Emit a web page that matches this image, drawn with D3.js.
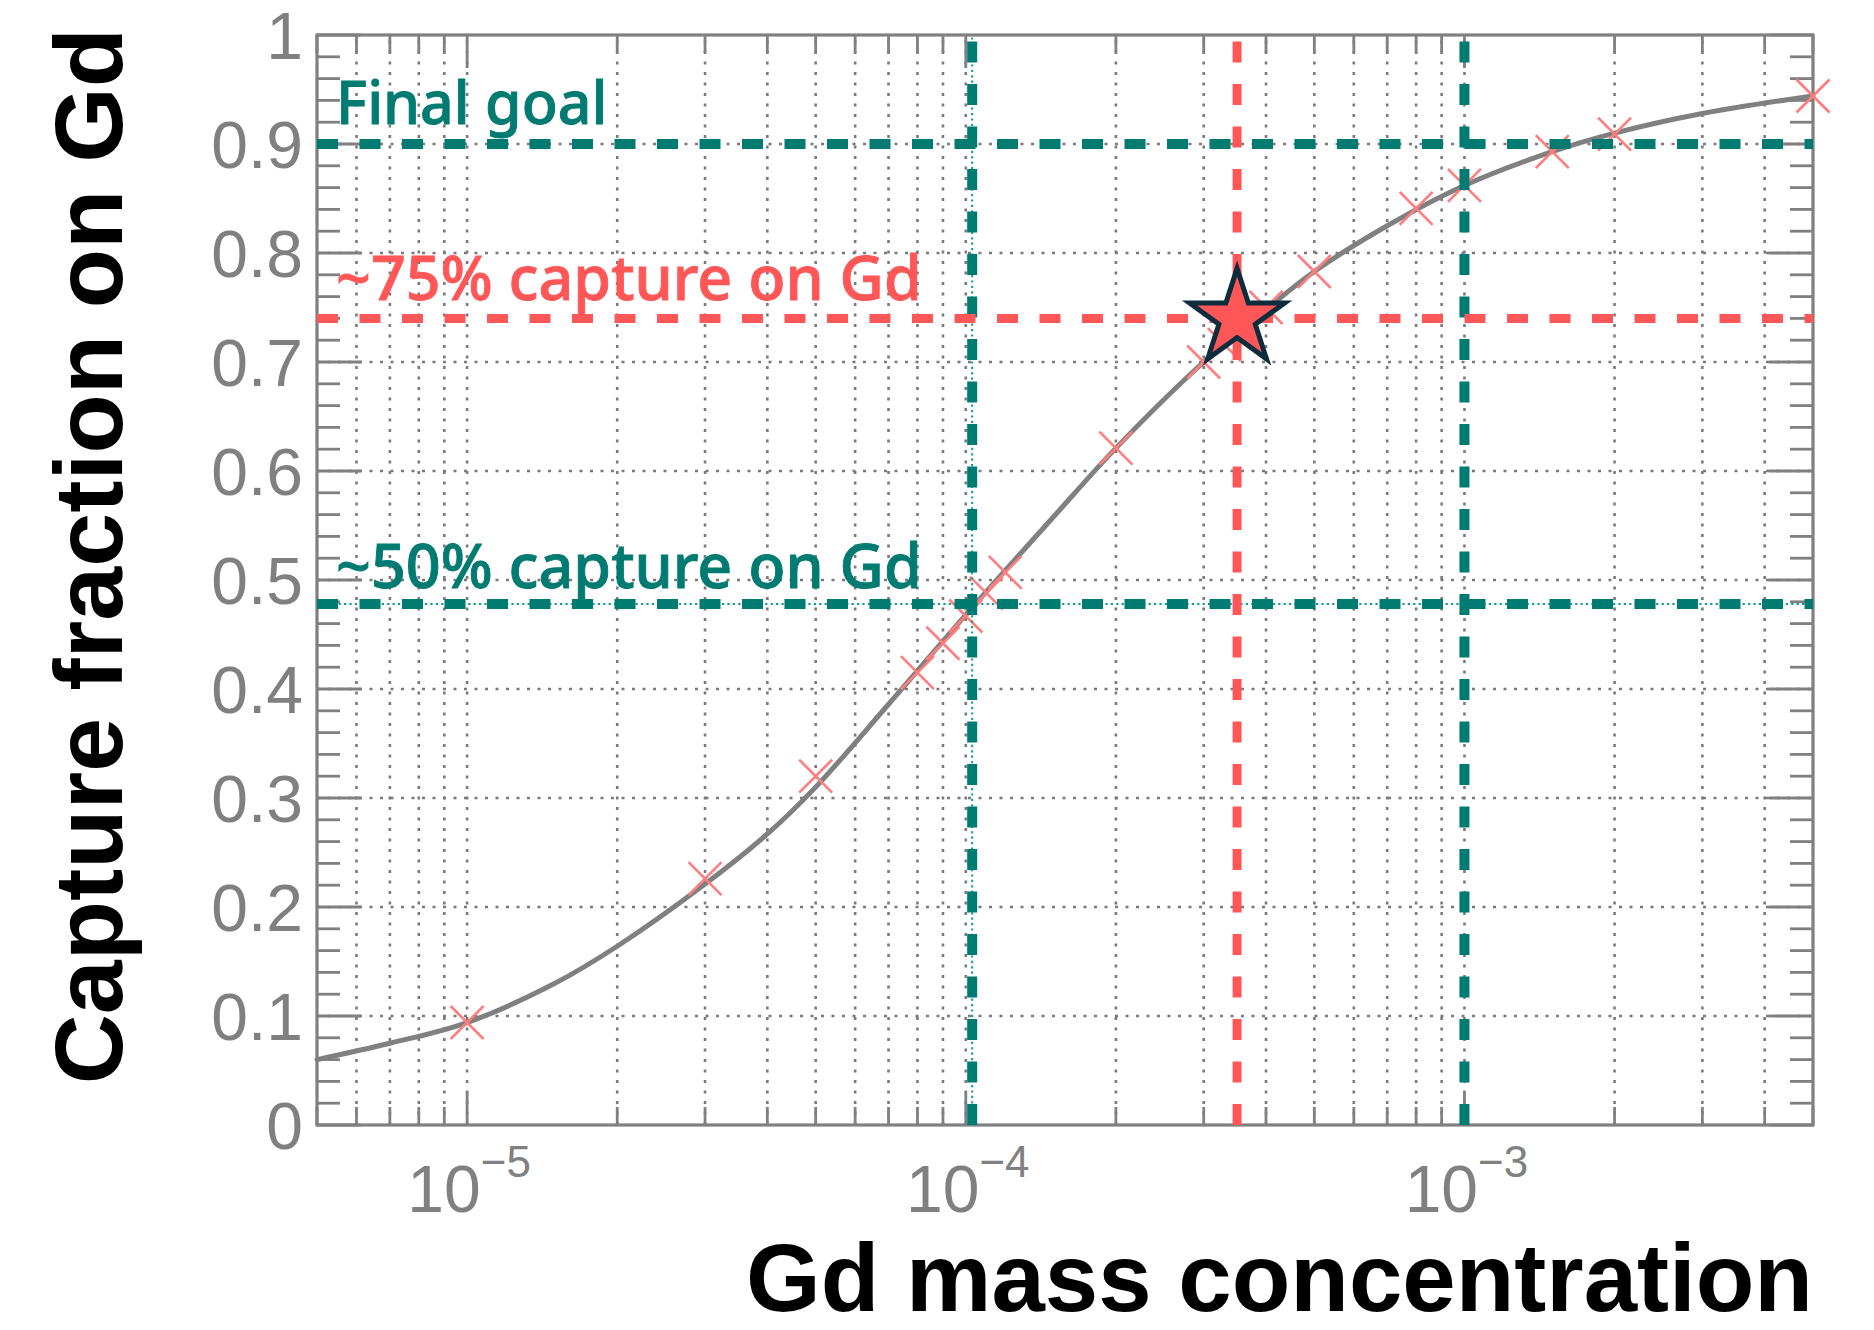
<!DOCTYPE html>
<html>
<head>
<meta charset="utf-8">
<script src="https://cdn.jsdelivr.net/npm/d3@7"></script>
<style>
  html, body { margin: 0; padding: 0; background: #ffffff; }
  svg { display: block; }
</style>
</head>
<body>
<svg id="chart" width="1874" height="1330"></svg>
<script>
// Simulated capture fractions at each Gd mass concentration (cross markers)
const simConc = [1e-5, 3e-5, 5e-5, 8e-5, 9e-5, 1e-4, 1.1e-4, 1.2e-4, 2e-4, 3e-4, 3.3e-4, 4e-4, 5e-4, 8e-4, 1e-3, 1.5e-3, 2e-3, 5e-3];
const simFrac = [0.094, 0.226, 0.320, 0.415, 0.442, 0.467, 0.488, 0.507, 0.621, 0.700, 0.716, 0.750, 0.783, 0.841, 0.862, 0.893, 0.909, 0.944];

// Smooth fit through the simulation
const fitConc = [5e-6, 7e-6, 1e-5, 1.5e-5, 2e-5, 3e-5, 4e-5, 5e-5, 7e-5, 1e-4, 1.5e-4, 2e-4, 3e-4, 4e-4, 5e-4, 7e-4, 1e-3, 1.5e-3, 2e-3, 3e-3, 5e-3];
const fitFrac = [0.060, 0.075, 0.094, 0.130, 0.164, 0.221, 0.267, 0.310, 0.386, 0.468, 0.558, 0.621, 0.700, 0.748, 0.783, 0.825, 0.862, 0.893, 0.910, 0.928, 0.944];

// Reference levels
const goalFrac = 0.9;
const currentFrac = 0.74;
const halfFrac = 0.478;
const halfConc = 1.03e-4;
const goalConc = 1e-3;
const currentConc = 3.5e-4;

// Axis ticks and labels
const xDomain = [5e-6, 5e-3];
const xMajorTicks = [1e-5, 1e-4, 1e-3];
const xTickExponents = ["\u22125", "\u22124", "\u22123"];
const yMajorTicks = [0, 0.1, 0.2, 0.3, 0.4, 0.5, 0.6, 0.7, 0.8, 0.9, 1];
const yTickLabels = ["0", "0.1", "0.2", "0.3", "0.4", "0.5", "0.6", "0.7", "0.8", "0.9", "1"];

const annotations = [
  { text: "Final goal", frac: goalFrac, color: "teal" },
  { text: "~75% capture on Gd", frac: currentFrac, color: "red" },
  { text: "~50% capture on Gd", frac: halfFrac, color: "teal" }
];

const COLORS = {
  axis: "#808080",
  grid: "#7a7a7a",
  curve: "#808080",
  teal: "#007b71",
  tealThin: "#0a9c92",
  red: "#ff5757",
  cross: "#ff7d7d",
  starEdge: "#0d2c3c",
  title: "#000000"
};

const W = 1874, H = 1330;
const margin = { left: 317, right: 61, top: 35, bottom: 205 };
const x0 = margin.left, x1 = W - margin.right;
const y0 = H - margin.bottom, y1 = margin.top;

const x = d3.scaleLog().domain(xDomain).range([x0, x1]);
const y = d3.scaleLinear().domain([0, 1]).range([y0, y1]);

const svg = d3.select("#chart");

// ---- tick sets ----
const xAllTicks = [];
for (let e = -6; e <= -3; e++) {
  for (let m = 1; m <= 9; m++) {
    const v = m * Math.pow(10, e);
    if (v >= xDomain[0] * 0.999 && v <= xDomain[1] * 1.001) xAllTicks.push({ v, major: m === 1 });
  }
}
const yAllTicks = d3.range(0, 51).map(i => ({ v: i / 50, major: i % 5 === 0 }));

// ---- grid ----
const grid = svg.append("g").attr("class", "grid")
  .attr("stroke", COLORS.grid).attr("stroke-width", 2.6).attr("stroke-dasharray", "3,7.5");
grid.selectAll("line.gx")
  .data(xAllTicks.filter(t => t.v > xDomain[0] * 1.001 && t.v < xDomain[1] * 0.999))
  .join("line").attr("class", "gx")
  .attr("x1", d => x(d.v)).attr("x2", d => x(d.v))
  .attr("y1", y0).attr("y2", y1);
grid.selectAll("line.gy")
  .data(yMajorTicks.filter(v => v > 0 && v < 1))
  .join("line").attr("class", "gy")
  .attr("x1", x0).attr("x2", x1)
  .attr("y1", d => y(d)).attr("y2", d => y(d));

// ---- frame and ticks (ticks point inward on all four sides) ----
const axes = svg.append("g").attr("class", "axes").attr("stroke", COLORS.axis);
axes.append("rect")
  .attr("x", x0).attr("y", y1).attr("width", x1 - x0).attr("height", y0 - y1)
  .attr("fill", "none").attr("stroke-width", 3.2);

const yLenMajor = 44, yLenMinor = 23, xLenMajor = 33, xLenMinor = 18;
axes.selectAll("line.tl").data(yAllTicks).join("line").attr("class", "tl")
  .attr("stroke-width", 2.8)
  .attr("x1", x0).attr("x2", d => x0 + (d.major ? yLenMajor : yLenMinor))
  .attr("y1", d => y(d.v)).attr("y2", d => y(d.v));
axes.selectAll("line.tr").data(yAllTicks).join("line").attr("class", "tr")
  .attr("stroke-width", 2.8)
  .attr("x1", x1).attr("x2", d => x1 - (d.major ? yLenMajor : yLenMinor))
  .attr("y1", d => y(d.v)).attr("y2", d => y(d.v));
axes.selectAll("line.tb").data(xAllTicks).join("line").attr("class", "tb")
  .attr("stroke-width", 2.8)
  .attr("x1", d => x(d.v)).attr("x2", d => x(d.v))
  .attr("y1", y0).attr("y2", d => y0 - (d.major ? xLenMajor : xLenMinor));
axes.selectAll("line.tt").data(xAllTicks).join("line").attr("class", "tt")
  .attr("stroke-width", 2.8)
  .attr("x1", d => x(d.v)).attr("x2", d => x(d.v))
  .attr("y1", y1).attr("y2", d => y1 + (d.major ? xLenMajor : xLenMinor));

// ---- tick labels ----
const tickFont = "'Liberation Sans', Arial, Helvetica, sans-serif";
svg.append("g").selectAll("text").data(yMajorTicks).join("text")
  .attr("x", x0 - 14)
  .attr("y", d => y(d) + 23.5)
  .attr("text-anchor", "end")
  .attr("font-family", tickFont).attr("font-size", 66)
  .attr("fill", COLORS.axis)
  .text((d, i) => yTickLabels[i]);

const xl = svg.append("g").selectAll("text").data(xMajorTicks).join("text")
  .attr("x", d => x(d) + 2)
  .attr("y", 1212)
  .attr("text-anchor", "middle")
  .attr("font-family", tickFont).attr("font-size", 66)
  .attr("fill", COLORS.axis);
xl.append("tspan").text("10");
xl.append("tspan").attr("dy", -35).attr("font-size", 44).text((d, i) => xTickExponents[i]);

// ---- axis titles ----
const titleFont = "'Liberation Sans', Arial, Helvetica, sans-serif";
svg.append("text")
  .attr("x", x1).attr("y", 1311)
  .attr("text-anchor", "end")
  .attr("font-family", titleFont).attr("font-weight", "bold").attr("font-size", 96)
  .attr("fill", COLORS.title)
  .text("Gd mass concentration");
svg.append("text")
  .attr("transform", `translate(122,28) rotate(-90)`)
  .attr("text-anchor", "end")
  .attr("font-family", titleFont).attr("font-weight", "bold").attr("font-size", 97)
  .attr("fill", COLORS.title)
  .text("Capture fraction on Gd");

// ---- fitted curve ----
const fitPts = fitConc.map((c, i) => [x(c), y(fitFrac[i])]);
svg.append("path")
  .attr("d", d3.line().curve(d3.curveCatmullRom.alpha(0.5))(fitPts))
  .attr("fill", "none").attr("stroke", COLORS.curve).attr("stroke-width", 5)
  .attr("stroke-linecap", "round");

// ---- simulation crosses ----
const cs = 16.5;
const crosses = svg.append("g").attr("stroke", COLORS.cross).attr("stroke-width", 2.6);
simConc.forEach((c, i) => {
  const cx = x(c), cy = y(simFrac[i]);
  crosses.append("line").attr("x1", cx - cs).attr("y1", cy - cs).attr("x2", cx + cs).attr("y2", cy + cs);
  crosses.append("line").attr("x1", cx - cs).attr("y1", cy + cs).attr("x2", cx + cs).attr("y2", cy - cs);
});

// ---- reference lines ----
const refs = svg.append("g").attr("fill", "none");
const dash = "21,21.5";
function hLine(frac, color, width, dashes) {
  refs.append("line").attr("x1", x0).attr("x2", x1).attr("y1", y(frac)).attr("y2", y(frac))
    .attr("stroke", color).attr("stroke-width", width).attr("stroke-dasharray", dashes);
}
function vLine(conc, color, width, dashes) {
  refs.append("line").attr("x1", x(conc)).attr("x2", x(conc)).attr("y1", y0).attr("y2", y1)
    .attr("stroke", color).attr("stroke-width", width).attr("stroke-dasharray", dashes);
}
// thin dotted companions of the 50% markers
hLine(halfFrac, COLORS.tealThin, 2, "2.2,3.2");
vLine(halfConc, COLORS.tealThin, 2, "2.2,3.2");
// thick dashed markers
hLine(goalFrac, COLORS.teal, 10, dash);
hLine(halfFrac, COLORS.teal, 10, dash);
vLine(halfConc, COLORS.teal, 10, dash);
vLine(goalConc, COLORS.teal, 10, dash);
hLine(currentFrac, COLORS.red, 9, dash);
vLine(currentConc, COLORS.red, 9, dash);

// ---- current working point ----
const starR = 50;
svg.append("path")
  .attr("d", d3.symbol(d3.symbolStar, (starR * starR) / 0.8908130915292852)())
  .attr("transform", `translate(${x(currentConc)},${y(currentFrac)})`)
  .attr("fill", COLORS.red).attr("stroke", COLORS.starEdge).attr("stroke-width", 5)
  .attr("stroke-linejoin", "miter");

// ---- annotations ----
const noteFont = "'Noto Sans', 'Open Sans', sans-serif";
const noteBaseline = { "Final goal": 124, "~75% capture on Gd": 300, "~50% capture on Gd": 588 };
const noteSize = { "Final goal": 59, "~75% capture on Gd": 61, "~50% capture on Gd": 61 };
svg.append("g").selectAll("text").data(annotations).join("text")
  .attr("x", 336)
  .attr("y", d => noteBaseline[d.text])
  .attr("font-family", noteFont).attr("font-weight", 500).attr("font-size", d => noteSize[d.text])
  .attr("fill", d => d.color === "teal" ? COLORS.teal : COLORS.red)
  .attr("stroke", d => d.color === "teal" ? COLORS.teal : COLORS.red)
  .attr("stroke-width", 0.9)
  .text(d => d.text);
</script>
</body>
</html>
